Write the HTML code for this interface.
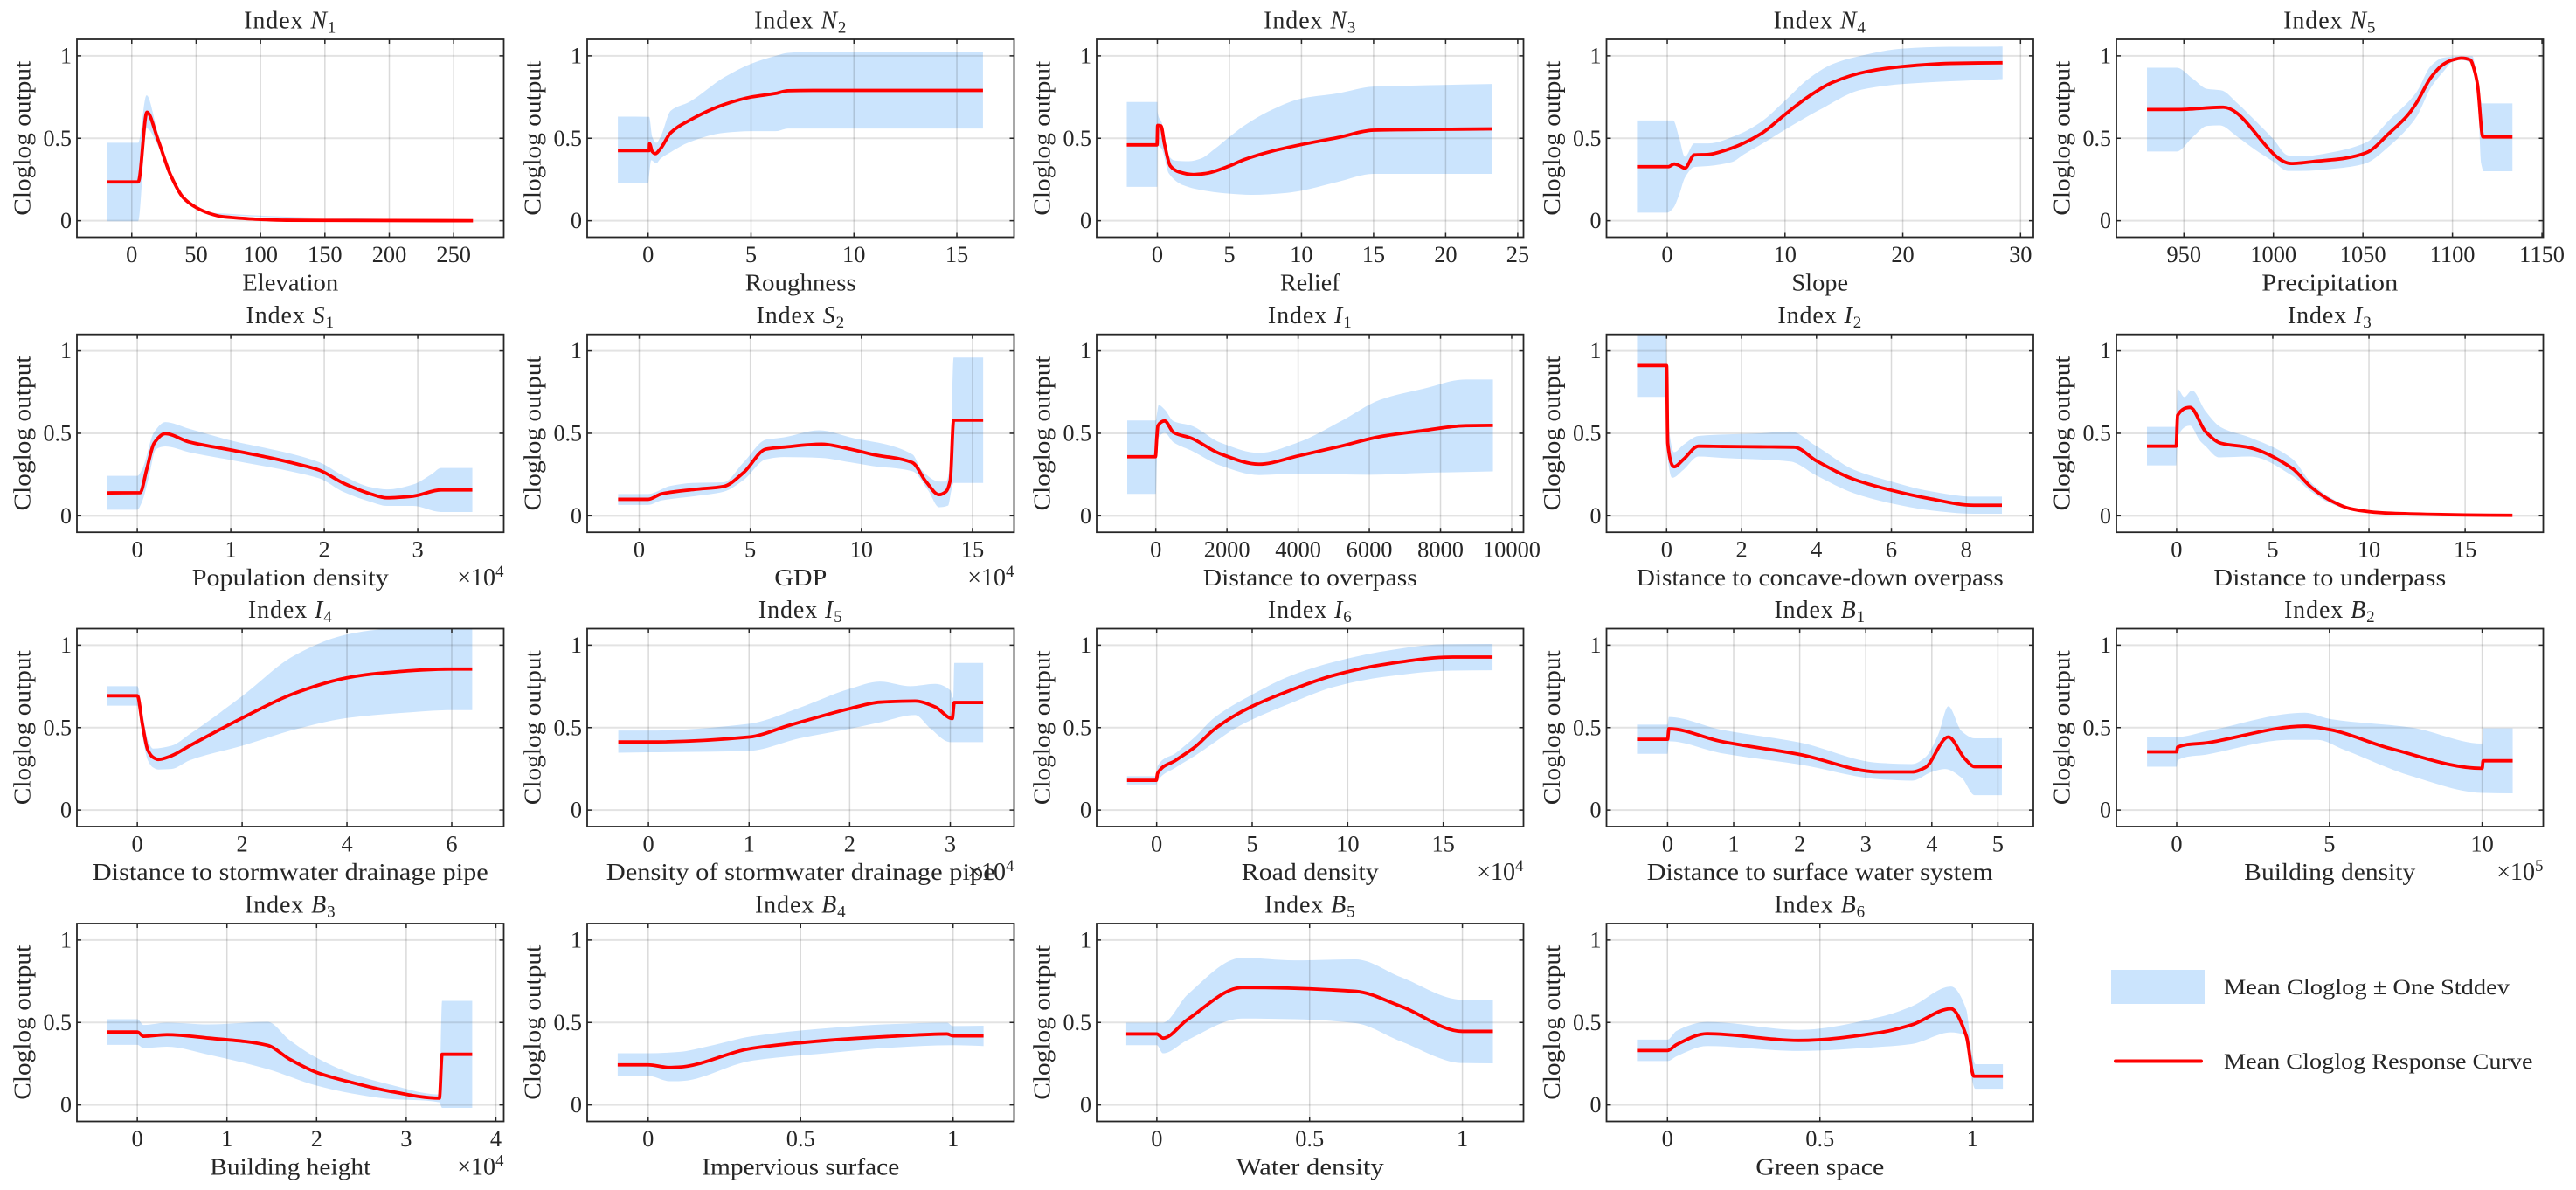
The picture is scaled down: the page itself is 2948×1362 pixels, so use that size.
<!DOCTYPE html>
<html lang="en">
<head>
<meta charset="utf-8">
<title>Cloglog response curves</title>
<style>
html,body{margin:0;padding:0;background:#fff;}
svg{display:block;}
text{font-family:"Liberation Serif",serif;fill:#262626;}
</style>
</head>
<body>
<svg id="chart" xmlns="http://www.w3.org/2000/svg" width="2948" height="1362" viewBox="0 0 2948 1362">
<rect width="2948" height="1362" fill="#fff"/>
<g>
<rect x="2416" y="1110" width="107" height="39" fill="#cbe4fd"/>
<text x="2545" y="1138" font-size="25" textLength="327" lengthAdjust="spacingAndGlyphs">Mean Cloglog ± One Stddev</text>
<line x1="2421" y1="1214.5" x2="2519" y2="1214.5" stroke="#ff0000" stroke-width="4" stroke-linecap="round"/>
<text x="2545" y="1223" font-size="25" textLength="353.5" lengthAdjust="spacingAndGlyphs">Mean Cloglog Response Curve</text>
</g>
</svg>
<script>
const n1MeanX=[-19,5,11.8,20,30,40,50,60,70,80,100,120,150,265];
const n1Mean=[.235,.235,.658,.5,.28,.14,.08,.045,.025,.018,.008,.003,.002,0];
const n1HiX=[-19,5,11.5,20,30,40,50,60,265];
const n1Hi=[.473,.473,.76,.54,.30,.155,.085,.05,0];
const n1LoX=[-19,5,11.5,20,30,40,50,60,265];
const n1Lo=[-.003,-.003,.56,.46,.26,.125,.07,.04,0];

const n2MeanX=[-1.47,.05,.07,.2,.35,.6,1.1,2,3.7,5,6.2,6.8,8,16.27];
const n2Mean=[.425,.425,.467,.42,.407,.437,.534,.608,.705,.75,.772,.788,.79,.79];
const n2HiX=[-1.47,.05,.2,.4,.6,1.1,2,3.7,5,6.2,6.8,8,16.27];
const n2Hi=[.631,.63,.508,.473,.508,.667,.72,.87,.952,1,1.018,1.023,1.023];
const n2LoX=[-1.47,0,.05,.15,.4,.6,1.1,2,3.7,5,6.2,6.8,16.27];
const n2Lo=[.226,.226,.28,.367,.349,.376,.416,.476,.533,.543,.543,.559,.559];

const n3MeanX=[-2.12,-.02,.02,.25,.5,.9,1.5,2.5,3.3,5,6,8,10,12.5,15,17,23.23];
const n3Mean=[.46,.46,.578,.575,.464,.332,.296,.28,.286,.332,.37,.423,.462,.504,.549,.552,.557];
const n3HiX=[-2.12,0,.02,.3,.8,1.2,2.2,3,4,5,6,8,10,12.5,15,18,23.23];
const n3Hi=[.72,.72,.658,.596,.393,.365,.361,.376,.437,.508,.575,.675,.741,.772,.813,.82,.829];
const n3LoX=[-2.12,0,.02,.3,.8,1.8,3.3,5,6.5,9,10,12.5,15,23.23];
const n3Lo=[.205,.205,.455,.437,.287,.215,.182,.164,.157,.169,.182,.235,.284,.284];

const n4MeanX=[-2.57,.1,.6,1,1.5,2.3,3.5,5,6,8,10,12,14,17,20,24,28.47];
const n4Mean=[.328,.328,.344,.335,.319,.399,.402,.429,.455,.529,.644,.753,.838,.905,.935,.954,.958];
const n4HiX=[-2.57,.5,1,1.5,2.3,3.5,6,8,10,12,14,16,20,24,28.47];
const n4Hi=[.608,.608,.508,.388,.469,.469,.522,.601,.728,.861,.949,.993,1.044,1.055,1.056];
const n4LoX=[-2.57,0,.5,1,1.5,2.3,3.5,5.5,6.5,8,10,13,16.5,20,28.47];
const n4Lo=[.049,.049,.076,.155,.261,.326,.332,.356,.402,.464,.552,.675,.795,.829,.859];

const n5MeanX=[929.4,946,972,1010,1025,1040,1052,1065,1075,1080,1088,1095,1100,1105,1110,1112,1114,1117,1133.5];
const n5Mean=[.674,.674,.688,.347,.362,.379,.413,.534,.64,.716,.869,.949,.975,.986,.975,.922,.825,.508,.508];
const n5HiX=[929.4,946,955,963,971,980,990,1000,1008,1015,1035,1052,1065,1080,1088,1095,1105,1111,1114,1116.5,1133.5];
const n5Hi=[.928,.928,.861,.799,.79,.711,.605,.494,.397,.39,.42,.476,.614,.781,.94,.989,.998,.998,.861,.711,.711];
const n5LoX=[929.4,946,955,963,970,980,990,1000,1008,1015,1035,1051,1065,1075,1080,1088,1095,1100,1105,1110,1112,1114,1116,1117.5,1133.5];
const n5Lo=[.42,.42,.508,.575,.578,.508,.429,.358,.302,.302,.317,.346,.455,.561,.631,.808,.905,.963,.975,.958,.914,.808,.349,.3,.3];

const s1MeanX=[-.323,.03,.1,.18,.3,.55,1,1.4,1.7,1.95,2.2,2.5,2.67,2.95,3.25,3.584];
const s1Mean=[.139,.14,.28,.44,.498,.448,.399,.354,.315,.276,.199,.132,.109,.119,.157,.157];
const s1HiX=[-.323,0,.05,.18,.3,.55,1,1.7,1.95,2.2,2.5,2.67,2.95,3.15,3.25,3.584];
const s1Hi=[.242,.242,.279,.507,.568,.528,.457,.368,.324,.244,.173,.16,.19,.253,.29,.29];
const s1LoX=[-.323,0,.05,.12,.2,.3,.55,1,1.7,1.95,2.2,2.5,2.67,2.95,3.25,3.584];
const s1Lo=[.037,.037,.084,.226,.404,.42,.386,.338,.262,.226,.146,.084,.06,.06,.023,.023];

const s2MeanX=[-.95,.4,1,2.5,3.8,4.7,5.7,6.5,8.2,9.5,10.5,12.3,12.9,13.5,13.8,14,14.15,15.48];
const s2Mean=[.1,.1,.133,.16,.178,.262,.404,.416,.434,.404,.372,.322,.208,.128,.146,.217,.58,.58];
const s2HiX=[-.95,.4,1.4,2.4,3.8,4.7,5.7,6.5,8.1,9.5,12.3,12.7,13.5,13.8,14,14.15,15.48];
const s2Hi=[.132,.132,.181,.199,.203,.324,.461,.475,.518,.475,.372,.279,.208,.208,.315,.959,.959];
const s2LoX=[-.95,.4,1,2.5,3.8,4.7,5.7,6.5,8.2,9.5,10.5,12.3,13,13.5,13.9,14.05,14.15,15.48];
const s2Lo=[.066,.066,.093,.119,.146,.217,.342,.356,.351,.324,.302,.27,.155,.052,.062,.155,.199,.199];

const i1MeanX=[-803,-10,30,60,250,500,1000,1800,2900,4000,5200,6300,7500,8700,9474];
const i1Mean=[.358,.358,.48,.546,.575,.505,.47,.377,.313,.363,.422,.48,.516,.546,.548];
const i1HiX=[-803,0,30,80,250,500,1000,1800,2900,4000,5200,6300,7500,8700,9474];
const i1Hi=[.578,.578,.615,.671,.644,.573,.546,.445,.381,.445,.573,.703,.769,.826,.826];
const i1LoX=[-803,0,30,80,250,500,1000,1800,2900,4000,6000,7500,9474];
const i1Lo=[.133,.133,.33,.475,.502,.445,.395,.306,.247,.256,.249,.26,.269];

const i2MeanX=[-.79,-.02,0,.03,.2,.45,.85,1.5,2.5,3.4,4,5,6,7,8.2,8.95];
const i2Mean=[.911,.911,.911,.44,.297,.342,.422,.42,.418,.416,.333,.221,.155,.105,.064,.064];
const i2HiX=[-.79,-.02,.03,.2,.45,.85,2.5,3.3,4,5,6,7,8.2,8.95];
const i2Hi=[1.12,1.12,.617,.386,.431,.484,.5,.511,.422,.279,.208,.151,.116,.116];
const i2LoX=[-.79,-.02,.03,.15,.45,.85,1.5,3.3,4,5,6,7,8.2,8.95];
const i2Lo=[.721,.721,.351,.23,.279,.359,.351,.329,.244,.137,.075,.034,.012,.012];

const i3MeanX=[-1.54,-.02,.05,.7,1.5,2.3,3.8,6,7,8,9,10,11,13,15,17.46];
const i3Mean=[.422,.422,.609,.657,.511,.44,.413,.288,.173,.093,.044,.025,.016,.009,.005,.003];
const i3HiX=[-1.54,-.02,.05,.4,.8,1.5,2.3,3.8,6,7,8,9,10,17.46];
const i3Hi=[.539,.539,.769,.72,.76,.635,.537,.475,.347,.2,.11,.052,.028,.003];
const i3LoX=[-1.54,-.02,.05,.7,1.2,1.5,2.2,3.8,6,7,8,9,10,17.46];
const i3Lo=[.306,.306,.475,.546,.457,.422,.354,.359,.244,.146,.075,.036,.021,.001];

const i4MeanX=[-.576,0,.1,.2,.3,.4,.65,1,2,3,4,4.6,6,6.39];
const i4Mean=[.693,.693,.514,.364,.32,.307,.329,.39,.558,.708,.802,.829,.855,.855];
const i4HiX=[-.576,0,.1,.2,.3,.65,1,2,3,4,4.6,5.2,6.39];
const i4Hi=[.751,.751,.585,.426,.373,.39,.461,.691,.938,1.065,1.094,1.105,1.11];
const i4LoX=[-.576,0,.1,.2,.3,.4,.65,1,2,3,4,5,6,6.39];
const i4Lo=[.633,.633,.443,.302,.258,.246,.249,.302,.39,.488,.558,.588,.606,.606];

const i5MeanX=[-.3,0,1,1.4,2,2.3,2.65,2.85,3.02,3.04,3.327];
const i5Mean=[.413,.413,.443,.514,.615,.654,.661,.625,.555,.652,.652];
const i5HiX=[-.3,0,1,1.5,2,2.3,2.6,2.85,3,3.03,3.04,3.327];
const i5Hi=[.482,.482,.523,.62,.735,.779,.751,.765,.726,.68,.892,.892];
const i5LoX=[-.3,0,1,1.5,2,2.3,2.65,2.8,3,3.327];
const i5Lo=[.348,.35,.359,.435,.493,.532,.576,.496,.412,.412];

const i6MeanX=[-1.55,-.02,.05,1,2,3,4,5,7,9.3,12,15.5,17.58];
const i6Mean=[.18,.18,.223,.302,.382,.488,.567,.629,.726,.818,.885,.928,.928];
const i6HiX=[-1.55,-.02,.05,1,2,3,5,7,9.3,12,15,17.58];
const i6Hi=[.205,.205,.267,.346,.443,.558,.7,.814,.899,.965,1.005,1.007];
const i6LoX=[-1.55,-.02,.05,1,2,3,4,5,7,9.3,12,15.5,17.58];
const i6Lo=[.155,.155,.178,.258,.329,.408,.488,.549,.647,.747,.809,.846,.848];

const b1MeanX=[-.463,0,.02,.8,2,3.2,3.7,3.9,4.25,4.5,4.65,5.06];
const b1Mean=[.429,.429,.493,.417,.337,.231,.231,.258,.443,.311,.263,.263];
const b1HiX=[-.463,0,.02,.8,2,3.2,3.7,3.9,4.1,4.25,4.45,4.65,5.06];
const b1Hi=[.518,.518,.564,.488,.41,.286,.279,.32,.461,.629,.479,.435,.436];
const b1LoX=[-.463,0,.02,.8,2,3.2,3.7,4,4.2,4.45,4.65,5.06];
const b1Lo=[.341,.341,.417,.346,.276,.187,.178,.231,.249,.196,.09,.09];

const b2MeanX=[-.97,0,.03,1,4.2,5,7,10,10.03,11];
const b2Mean=[.353,.353,.382,.408,.509,.488,.373,.253,.299,.299];
const b2HiX=[-.97,0,1,4.2,5,7.7,10,10.03,11];
const b2Hi=[.443,.443,.479,.59,.553,.5,.403,.496,.496];
const b2LoX=[-.97,0,.03,1,3.7,4.6,5.5,7.7,10,11];
const b2Lo=[.263,.263,.302,.337,.426,.426,.364,.205,.104,.101];

const b3MeanX=[-.337,0,.07,.33,.8,1.45,1.7,2,2.4,2.8,3.37,3.4,3.736];
const b3Mean=[.442,.442,.416,.426,.405,.362,.277,.197,.135,.085,.041,.307,.307];
const b3HiX=[-.337,0,.07,.33,.8,1.45,1.7,2,2.4,2.8,3.37,3.4,3.736];
const b3Hi=[.52,.52,.485,.499,.488,.504,.393,.286,.188,.126,.064,.631,.631];
const b3LoX=[-.337,0,.07,.33,.8,1.45,2,2.4,2.8,3.37,3.4,3.736];
const b3Lo=[.364,.364,.345,.353,.304,.218,.117,.069,.037,.016,-.018,-.018];

const b4MeanX=[-.1,0,.07,.1,.34,.6,.8,.98,1,1.1];
const b4Mean=[.243,.243,.227,.229,.343,.393,.416,.43,.419,.419];
const b4HiX=[-.1,0,.1,.2,.34,.6,.8,.98,1,1.1];
const b4Hi=[.313,.313,.321,.357,.416,.467,.49,.499,.478,.48];
const b4LoX=[-.1,0,.07,.1,.34,.6,.8,1,1.1];
const b4Lo=[.176,.176,.144,.144,.268,.316,.348,.362,.357];

const b5MeanX=[-.1,0,.02,.1,.28,.65,.8,1,1.1];
const b5Mean=[.43,.43,.405,.517,.712,.689,.597,.446,.446];
const b5HiX=[-.1,.02,.1,.28,.45,.65,.8,1,1.1];
const b5Hi=[.499,.499,.668,.893,.877,.883,.774,.638,.638];
const b5LoX=[-.1,0,.02,.1,.28,.45,.65,.8,1,1.1];
const b5Lo=[.362,.362,.313,.393,.524,.52,.496,.384,.254,.252];

const b6MeanX=[-.1,0,.03,.13,.43,.7,.8,.93,.98,1.005,1.1];
const b6Mean=[.33,.33,.366,.432,.391,.44,.485,.583,.419,.174,.174];
const b6HiX=[-.1,0,.03,.13,.43,.7,.8,.93,.98,1,1.01,1.1];
const b6Hi=[.396,.396,.449,.503,.455,.535,.597,.718,.579,.3,.247,.247];
const b6LoX=[-.1,0,.03,.13,.43,.7,.8,.93,.97,1.01,1.1];
const b6Lo=[.266,.266,.295,.357,.327,.352,.369,.44,.428,.098,.098];

const yTickValues=[0,.5,1];
const xTickSets=[
 [0,50,100,150,200,250],[0,5,10,15],[0,5,10,15,20,25],[0,10,20,30],[950,1000,1050,1100,1150],
 [0,1,2,3],[0,5,10,15],[0,2000,4000,6000,8000,10000],[0,2,4,6,8],[0,5,10,15],
 [0,2,4,6],[0,1,2,3],[0,5,10,15],[0,1,2,3,4,5],[0,5,10],
 [0,1,2,3,4],[0,.5,1],[0,.5,1],[0,.5,1]
];
const xDomainMin=[-42.6,-2.96,-4.21,-5.16,912.3,-.646,-2.34,-1662,-1.605,-3.13,-1.153,-.609,-3.14,-.925,-1.974,-.674,-.2,-.197,-.2];
const xDomainMax=[288.9,17.78,25.4,31.09,1150.7,3.92,16.87,10332,9.79,19.06,6.992,3.634,19.2,5.537,12,4.088,1.2,1.2,1.2];
const titleLetters=['N','N','N','N','N','S','S','I','I','I','I','I','I','B','B','B','B','B','B'];
const titleSubs=[1,2,3,4,5,1,2,1,2,3,4,5,6,1,2,3,4,5,6];
const xLabels=['Elevation','Roughness','Relief','Slope','Precipitation','Population density','GDP','Distance to overpass','Distance to concave-down overpass','Distance to underpass','Distance to stormwater drainage pipe','Density of stormwater drainage pipe','Road density','Distance to surface water system','Building density','Building height','Impervious surface','Water density','Green space'];
const xLabelWidths=[110,127,68.5,64.7,156,225,60,245,420,266,453,445,157,396,196,184,226,169,147];
const xExponents=[0,0,0,0,0,4,4,0,0,0,0,4,4,0,5,4,0,0,0];

const seriesMeanX=[n1MeanX,n2MeanX,n3MeanX,n4MeanX,n5MeanX,s1MeanX,s2MeanX,i1MeanX,i2MeanX,i3MeanX,i4MeanX,i5MeanX,i6MeanX,b1MeanX,b2MeanX,b3MeanX,b4MeanX,b5MeanX,b6MeanX];
const seriesMean=[n1Mean,n2Mean,n3Mean,n4Mean,n5Mean,s1Mean,s2Mean,i1Mean,i2Mean,i3Mean,i4Mean,i5Mean,i6Mean,b1Mean,b2Mean,b3Mean,b4Mean,b5Mean,b6Mean];
const seriesHiX=[n1HiX,n2HiX,n3HiX,n4HiX,n5HiX,s1HiX,s2HiX,i1HiX,i2HiX,i3HiX,i4HiX,i5HiX,i6HiX,b1HiX,b2HiX,b3HiX,b4HiX,b5HiX,b6HiX];
const seriesHi=[n1Hi,n2Hi,n3Hi,n4Hi,n5Hi,s1Hi,s2Hi,i1Hi,i2Hi,i3Hi,i4Hi,i5Hi,i6Hi,b1Hi,b2Hi,b3Hi,b4Hi,b5Hi,b6Hi];
const seriesLoX=[n1LoX,n2LoX,n3LoX,n4LoX,n5LoX,s1LoX,s2LoX,i1LoX,i2LoX,i3LoX,i4LoX,i5LoX,i6LoX,b1LoX,b2LoX,b3LoX,b4LoX,b5LoX,b6LoX];
const seriesLo=[n1Lo,n2Lo,n3Lo,n4Lo,n5Lo,s1Lo,s2Lo,i1Lo,i2Lo,i3Lo,i4Lo,i5Lo,i6Lo,b1Lo,b2Lo,b3Lo,b4Lo,b5Lo,b6Lo];

const NS='http://www.w3.org/2000/svg';
const svg=document.getElementById('chart');
const colLefts=[88,672,1255,1838.5,2422];
const rowTops=[45,382.7,719.5,1057];
const AXW=488.5, AXH=226.5;
const INK='#262626';

function make(tag,attrs,parent,txt){
  const e=document.createElementNS(NS,tag);
  for(const k in attrs)e.setAttribute(k,attrs[k]);
  if(txt!==undefined)e.textContent=txt;
  parent.appendChild(e);
  return e;
}

// Monotone cubic segments through screen points; never overshoots at the steps.
function curveSegments(px,py){
  const n=px.length, h=[], s=[], m=[];
  for(let i=0;i<n-1;i++){
    h[i]=px[i+1]-px[i];
    s[i]=h[i]===0?0:(py[i+1]-py[i])/h[i];
  }
  m[0]=s[0]; m[n-1]=s[n-2];
  for(let i=1;i<n-1;i++){
    if(s[i-1]*s[i]<=0){m[i]=0;continue;}
    const a=2*h[i]+h[i-1], b=h[i]+2*h[i-1];
    m[i]=(a+b)/(a/s[i-1]+b/s[i]);
  }
  let d='';
  for(let i=0;i<n-1;i++){
    const t=h[i]/3;
    d+='C'+(px[i]+t).toFixed(2)+' '+(py[i]+m[i]*t).toFixed(2)+' '+(px[i+1]-t).toFixed(2)+' '+(py[i+1]-m[i+1]*t).toFixed(2)+' '+px[i+1].toFixed(2)+' '+py[i+1].toFixed(2);
  }
  return d;
}

xLabels.forEach(function(label,p){
  const L=colLefts[p%5], T=rowTops[Math.floor(p/5)], R=L+AXW, B=T+AXH;
  const xMin=xDomainMin[p], xMax=xDomainMax[p];
  const sx=function(v){return L+(v-xMin)/(xMax-xMin)*AXW;};
  const sy=function(v){return T+(1.1-v)/1.2*AXH;};
  const g=make('g',{},svg);
  
  

  const defs=make('defs',{},g);
  const clip=make('clipPath',{id:'clip'+p},defs);
  make('rect',{x:L,y:T,width:AXW,height:AXH},clip);

  const hiPx=seriesHiX[p].map(sx), hiPy=seriesHi[p].map(sy);
  const loPx=seriesLoX[p].map(sx).reverse(), loPy=seriesLo[p].map(sy).reverse();
  const bandPath='M'+hiPx[0].toFixed(2)+' '+hiPy[0].toFixed(2)+curveSegments(hiPx,hiPy)+'L'+loPx[0].toFixed(2)+' '+loPy[0].toFixed(2)+curveSegments(loPx,loPy)+'Z';
  const band=make('path',{d:bandPath,fill:'#cbe4fd','clip-path':'url(#clip'+p+')'},g);
  
  

  yTickValues.forEach(function(v){
    const gl=make('line',{x1:L,x2:R,y1:sy(v),y2:sy(v),stroke:INK,'stroke-opacity':.13,'stroke-width':2},g);
    
    
  });
  xTickSets[p].forEach(function(v){
    const gl=make('line',{x1:sx(v),x2:sx(v),y1:T,y2:B,stroke:INK,'stroke-opacity':.17,'stroke-width':1.5},g);
    
    
  });

  const mPx=seriesMeanX[p].map(sx), mPy=seriesMean[p].map(sy);
  const linePath='M'+mPx[0].toFixed(2)+' '+mPy[0].toFixed(2)+curveSegments(mPx,mPy);
  const meanLine=make('path',{d:linePath,fill:'none',stroke:'#ff0000','stroke-width':3.8,'stroke-linejoin':'round','clip-path':'url(#clip'+p+')'},g);
  
  

  const box=make('rect',{x:L,y:T,width:AXW,height:AXH,fill:'none',stroke:INK,'stroke-width':1.8},g);
  
  

  yTickValues.forEach(function(v){
    const y=sy(v);
    const t1=make('line',{x1:L,x2:L+5,y1:y,y2:y,stroke:INK,'stroke-width':1.5},g);
    
    
    const t2=make('line',{x1:R-5,x2:R,y1:y,y2:y,stroke:INK,'stroke-width':1.5},g);
    
    
    const lab=make('text',{x:L-6,y:y+8.5,'font-size':26,'text-anchor':'end'},g,String(v));
    
    
  });
  xTickSets[p].forEach(function(v){
    const x=sx(v);
    const t1=make('line',{x1:x,x2:x,y1:B-5,y2:B,stroke:INK,'stroke-width':1.5},g);
    
    
    const t2=make('line',{x1:x,x2:x,y1:T,y2:T+5,stroke:INK,'stroke-width':1.5},g);
    
    
    const lab=make('text',{x:x,y:B+28.5,'font-size':26.4,'text-anchor':'middle'},g,String(v));
    
    
  });

  const cx=L+AXW/2, cy=T+AXH/2;
  const title=make('text',{x:cx,y:T-12.7,'font-size':28,'text-anchor':'middle','letter-spacing':'0.9','fill':'#111'},g);
  
  
  make('tspan',{},title,'Index ');
  make('tspan',{'font-style':'italic'},title,titleLetters[p]);
  make('tspan',{'font-size':19,dy:5},title,String(titleSubs[p]));

  const xl=make('text',{x:cx,y:B+61,'font-size':27,'text-anchor':'middle',textLength:xLabelWidths[p],lengthAdjust:'spacingAndGlyphs'},g,label);
  
  

  const yl=make('text',{x:0,y:0,'font-size':27,'text-anchor':'middle',textLength:177,lengthAdjust:'spacingAndGlyphs',transform:'translate('+(L-53.5)+','+cy+') rotate(-90)'},g,'Cloglog output');
  
  

  if(xExponents[p]){
    const ex=make('text',{x:R,y:B+61,'font-size':28,'text-anchor':'end'},g);
    
    
    make('tspan',{},ex,'×10');
    make('tspan',{'font-size':19,dy:-10},ex,String(xExponents[p]));
  }
});
</script>
</body>
</html>
